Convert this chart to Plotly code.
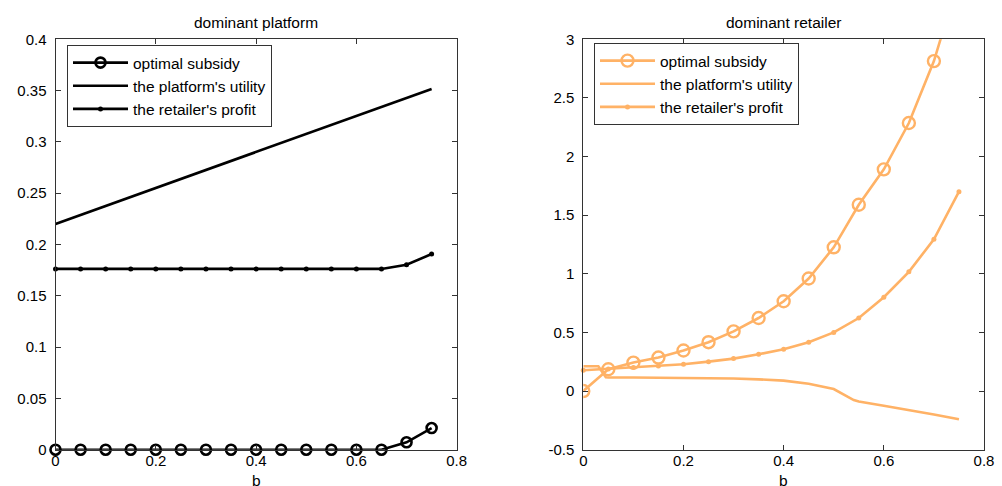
import plotly.graph_objects as go

# ---------------- data ----------------
b = [0, 0.05, 0.1, 0.15, 0.2, 0.25, 0.3, 0.35, 0.4, 0.45, 0.5, 0.55, 0.6, 0.65, 0.7, 0.75]

# dominant platform
dp_subsidy = [0, 0, 0, 0, 0, 0, 0, 0, 0, 0, 0, 0, 0, 0, 0.0072, 0.0211]
dp_utility = [0.2200, 0.2288, 0.2376, 0.2463, 0.2551, 0.2639, 0.2727, 0.2814, 0.2902,
              0.2990, 0.3078, 0.3165, 0.3253, 0.3341, 0.3429, 0.3516]
dp_profit = [0.1762, 0.1762, 0.1762, 0.1762, 0.1762, 0.1762, 0.1762, 0.1762, 0.1762,
             0.1762, 0.1762, 0.1762, 0.1762, 0.1762, 0.1803, 0.1907]

# dominant retailer
dr_subsidy = [0, 0.186, 0.243, 0.286, 0.346, 0.417, 0.509, 0.623, 0.766, 0.96,
              1.226, 1.589, 1.891, 2.286, 2.814, 3.52]
dr_utility_b = [0, 0.03, 0.045, 0.05, 0.1, 0.15, 0.2, 0.25, 0.3, 0.35, 0.4, 0.45,
                0.5, 0.54, 0.55, 0.6, 0.65, 0.7, 0.75]
dr_utility = [0.212, 0.212, 0.117, 0.116, 0.116, 0.115, 0.114, 0.112, 0.107, 0.100,
              0.089, 0.062, 0.017, -0.077, -0.089, -0.125, -0.160, -0.200, -0.240]
dr_profit = [0.177, 0.189, 0.200, 0.214, 0.229, 0.251, 0.277, 0.314, 0.357, 0.417,
             0.500, 0.623, 0.800, 1.017, 1.294, 1.700]

names = ["optimal subsidy", "the platform's utility", "the retailer's profit"]
x_ticks = [0, 0.2, 0.4, 0.6, 0.8]
x_ticklabels = ["0", "0.2", "0.4", "0.6", "0.8"]
dp_yticks = [0, 0.05, 0.1, 0.15, 0.2, 0.25, 0.3, 0.35, 0.4]
dp_yticklabels = ["0", "0.05", "0.1", "0.15", "0.2", "0.25", "0.3", "0.35", "0.4"]
dr_yticks = [-0.5, 0, 0.5, 1, 1.5, 2, 2.5, 3]
dr_yticklabels = ["-0.5", "0", "0.5", "1", "1.5", "2", "2.5", "3"]
titles = ["dominant platform", "dominant retailer"]

# ---------------- style ----------------
W, H = 1002, 486
BLACK = "#000000"
ORANGE = "#FFB266"
FONT = "Liberation Sans, Arial, sans-serif"


def px_x(p):
    return p / W


def px_y(p):
    return (H - p) / H


fig = go.Figure()

# left panel
fig.add_trace(go.Scatter(x=b, y=dp_subsidy, name=names[0], mode="lines+markers",
                         line=dict(color=BLACK, width=2.6),
                         marker=dict(symbol="circle-open", size=10, color=BLACK, line=dict(width=2.6)),
                         cliponaxis=False, legend="legend", xaxis="x", yaxis="y"))
fig.add_trace(go.Scatter(x=b, y=dp_utility, name=names[1], mode="lines",
                         line=dict(color=BLACK, width=2.6),
                         cliponaxis=False, legend="legend", xaxis="x", yaxis="y"))
fig.add_trace(go.Scatter(x=b, y=dp_profit, name=names[2], mode="lines+markers",
                         line=dict(color=BLACK, width=2.6),
                         marker=dict(symbol="circle", size=5, color=BLACK),
                         cliponaxis=False, legend="legend", xaxis="x", yaxis="y"))

# right panel
fig.add_trace(go.Scatter(x=b, y=dr_subsidy, name=names[0], mode="lines+markers",
                         line=dict(color=ORANGE, width=2.6),
                         marker=dict(symbol="circle-open", size=12, color=ORANGE, line=dict(width=2.4)),
                         legend="legend2", xaxis="x2", yaxis="y2"))
fig.add_trace(go.Scatter(x=dr_utility_b, y=dr_utility, name=names[1], mode="lines",
                         line=dict(color=ORANGE, width=2.6),
                         legend="legend2", xaxis="x2", yaxis="y2"))
fig.add_trace(go.Scatter(x=b, y=dr_profit, name=names[2], mode="lines+markers",
                         line=dict(color=ORANGE, width=2.6),
                         marker=dict(symbol="circle", size=5, color=ORANGE),
                         cliponaxis=False, legend="legend2", xaxis="x2", yaxis="y2"))

axis_common = dict(showgrid=False, zeroline=False, showline=True, linecolor="#333333",
                   linewidth=1, mirror="ticks", ticks="inside", ticklen=5, tickwidth=1,
                   tickcolor="#333333", automargin=False,
                   tickfont=dict(family=FONT, size=15, color=BLACK))

left_dom = [px_x(55.5), px_x(456.7)]
right_dom = [px_x(583.3), px_x(984)]
ydom = [px_y(449.7), px_y(39.3)]

legend_common = dict(xanchor="left", yanchor="top", bgcolor="white", bordercolor="#333333",
                     borderwidth=1, font=dict(family=FONT, size=15.5, color=BLACK),
                     itemwidth=55, tracegroupgap=0)

fig.update_layout(
    width=W, height=H,
    margin=dict(l=0, r=0, t=0, b=0, autoexpand=False),
    paper_bgcolor="white", plot_bgcolor="white",
    showlegend=True,
    xaxis=dict(domain=left_dom, range=[0, 0.8], tickvals=x_ticks, ticktext=x_ticklabels,
               anchor="y", ticklabelstandoff=-3, **axis_common),
    yaxis=dict(domain=ydom, range=[0, 0.4], tickvals=dp_yticks, ticktext=dp_yticklabels,
               anchor="x", ticklabelstandoff=5, **axis_common),
    xaxis2=dict(domain=right_dom, range=[0, 0.8], tickvals=x_ticks, ticktext=x_ticklabels,
                anchor="y2", ticklabelstandoff=-3, **axis_common),
    yaxis2=dict(domain=ydom, range=[-0.5, 3], tickvals=dr_yticks, ticktext=dr_yticklabels,
                anchor="x2", ticklabelstandoff=5, **axis_common),
    legend=dict(x=px_x(67), y=px_y(45), **legend_common),
    legend2=dict(x=px_x(594), y=px_y(43), **legend_common),
    annotations=[
        dict(text=titles[0], x=(left_dom[0] + left_dom[1]) / 2, y=px_y(22), xref="paper", yref="paper",
             xanchor="center", yanchor="middle", showarrow=False,
             font=dict(family=FONT, size=15.5, color=BLACK)),
        dict(text=titles[1], x=(right_dom[0] + right_dom[1]) / 2, y=px_y(22), xref="paper", yref="paper",
             xanchor="center", yanchor="middle", showarrow=False,
             font=dict(family=FONT, size=15.5, color=BLACK)),
        dict(text="b", x=(left_dom[0] + left_dom[1]) / 2, y=px_y(470), xref="paper", yref="paper",
             xanchor="center", yanchor="top", showarrow=False,
             font=dict(family=FONT, size=15.5, color=BLACK)),
        dict(text="b", x=(right_dom[0] + right_dom[1]) / 2, y=px_y(470), xref="paper", yref="paper",
             xanchor="center", yanchor="top", showarrow=False,
             font=dict(family=FONT, size=15.5, color=BLACK)),
    ],
)

fig.write_html("out.html", config={"displayModeBar": False},
               post_script="document.body.style.margin='0';document.body.style.overflow='hidden';")
